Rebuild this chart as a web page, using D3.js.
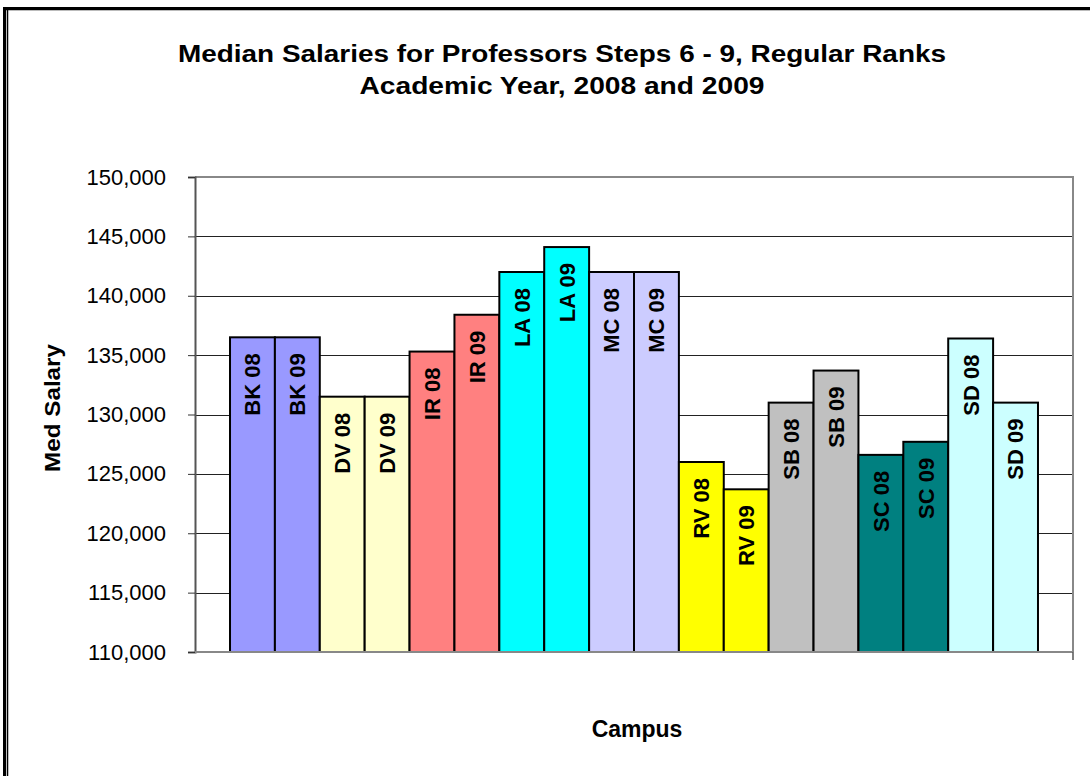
<!DOCTYPE html>
<html>
<head>
<meta charset="utf-8">
<script src="https://cdn.jsdelivr.net/npm/d3@7"></script>
<style>
body { margin: 0; background: #fff; }
text { font-family: "Liberation Sans", Arial, sans-serif; }
</style>
</head>
<body>
<svg id="chart" width="1090" height="776"></svg>
<script>
// data
var labels = ["BK 08", "BK 09", "DV 08", "DV 09", "IR 08", "IR 09", "LA 08", "LA 09", "MC 08",
              "MC 09", "RV 08", "RV 09", "SB 08", "SB 09", "SC 08", "SC 09", "SD 08", "SD 09"];
var salaries = [136500, 136500, 131500, 131500, 135300, 138400, 142000, 144100, 142000,
                142000, 126000, 123700, 131000, 133700, 126600, 127700, 136400, 131000];
var barColors = ["#9999FF", "#9999FF", "#FFFFCC", "#FFFFCC", "#FF8080", "#FF8080", "#00FFFF", "#00FFFF", "#CCCCFF",
                 "#CCCCFF", "#FFFF00", "#FFFF00", "#C0C0C0", "#C0C0C0", "#008080", "#008080", "#CCFFFF", "#CCFFFF"];
var yTicks = [110000, 115000, 120000, 125000, 130000, 135000, 140000, 145000, 150000];

var svg = d3.select("#chart");

// plot area
var plotL = 195, plotR = 1073, plotT = 177, plotB = 652;

var x = d3.scaleBand().domain(labels).range([plotL, plotR]).paddingInner(0).paddingOuter(0.78);
var y = d3.scaleLinear().domain([110000, 150000]).range([plotB, plotT]);

// outer frame
svg.append("rect").attr("x", 3).attr("y", 7).attr("width", 1087).attr("height", 3).attr("fill", "#000");
svg.append("line").attr("x1", 6).attr("x2", 1090).attr("y1", 10.5).attr("y2", 10.5).attr("stroke", "#bbb");
svg.append("rect").attr("x", 3).attr("y", 7).attr("width", 3).attr("height", 769).attr("fill", "#000");
svg.append("line").attr("x1", 7.5).attr("x2", 7.5).attr("y1", 10).attr("y2", 776).attr("stroke", "#000").attr("stroke-width", 1.5);

// grid lines
svg.append("g").selectAll("line")
  .data(yTicks.filter(function(d) { return d > 110000 && d < 150000; }))
  .enter().append("line")
  .attr("x1", plotL).attr("x2", plotR)
  .attr("y1", function(d) { return Math.round(y(d)) + 0.5; })
  .attr("y2", function(d) { return Math.round(y(d)) + 0.5; })
  .attr("stroke", "#222").attr("stroke-width", 1);

// plot border (top / right)
svg.append("path")
  .attr("d", "M" + plotL + "," + plotT + "H" + plotR + "V" + plotB)
  .attr("fill", "none").attr("stroke", "#888").attr("stroke-width", 2);

// bars
svg.append("g").selectAll("rect")
  .data(labels)
  .enter().append("rect")
  .attr("x", function(d) { return x(d); })
  .attr("y", function(d, i) { return y(salaries[i]); })
  .attr("width", x.bandwidth())
  .attr("height", function(d, i) { return plotB - y(salaries[i]); })
  .attr("fill", function(d, i) { return barColors[i]; })
  .attr("stroke", "#000").attr("stroke-width", 2);

// bar labels
svg.append("g").selectAll("text")
  .data(labels)
  .enter().append("text")
  .attr("transform", function(d, i) {
    return "translate(" + (x(d) + x.bandwidth() / 2) + "," + (y(salaries[i]) + 16) + ") rotate(-90)";
  })
  .attr("text-anchor", "end")
  .attr("dy", "0.36em")
  .attr("font-size", 22).attr("font-weight", "bold")
  .text(function(d) { return d; });

// y axis
var yAxis = svg.append("g")
  .attr("transform", "translate(" + plotL + ",0)")
  .call(d3.axisLeft(y).tickValues(yTicks).tickSize(7).tickPadding(22).tickFormat(d3.format(",")));
yAxis.select(".domain").attr("stroke", "#555").attr("stroke-width", 2);
yAxis.selectAll(".tick line").attr("stroke", "#333");
yAxis.selectAll(".tick text").attr("font-size", 22).attr("fill", "#000")
  .style("font-family", "'Liberation Sans', Arial, sans-serif");

// x axis line
svg.append("line").attr("x1", plotL).attr("x2", plotR).attr("y1", plotB).attr("y2", plotB)
  .attr("stroke", "#888").attr("stroke-width", 2);
svg.append("line").attr("x1", plotR).attr("x2", plotR).attr("y1", plotB).attr("y2", plotB + 8)
  .attr("stroke", "#555").attr("stroke-width", 1.5);

// titles
svg.append("text").attr("x", 562).attr("y", 62).attr("text-anchor", "middle")
  .attr("font-size", 23).attr("font-weight", "bold")
  .attr("textLength", 768).attr("lengthAdjust", "spacingAndGlyphs")
  .text("Median Salaries for Professors Steps 6 - 9, Regular Ranks");
svg.append("text").attr("x", 562).attr("y", 94).attr("text-anchor", "middle")
  .attr("font-size", 23).attr("font-weight", "bold")
  .attr("textLength", 405).attr("lengthAdjust", "spacingAndGlyphs")
  .text("Academic Year, 2008 and 2009");

svg.append("text")
  .attr("transform", "translate(60,408) rotate(-90)")
  .attr("text-anchor", "middle")
  .attr("font-size", 22).attr("font-weight", "bold")
  .attr("textLength", 128).attr("lengthAdjust", "spacingAndGlyphs")
  .text("Med Salary");

svg.append("text").attr("x", 637).attr("y", 737).attr("text-anchor", "middle")
  .attr("font-size", 23).attr("font-weight", "bold")
  .text("Campus");
</script>
</body>
</html>
